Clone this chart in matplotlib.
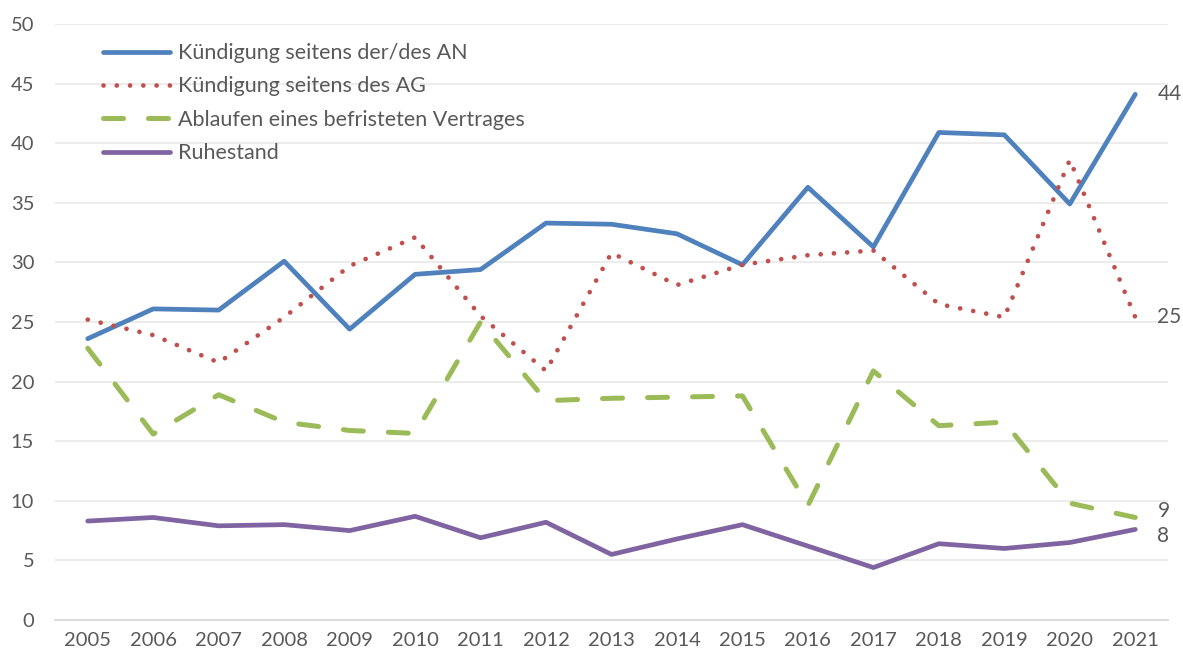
import matplotlib
matplotlib.use("Agg")
import matplotlib.pyplot as plt

# --- data ---
years = list(range(2005, 2022))
an = [23.6, 26.1, 26.0, 30.1, 24.4, 29.0, 29.4, 33.3, 33.2, 32.4, 29.8,
      36.3, 31.3, 40.9, 40.7, 34.9, 44.1]
ag = [25.2, 23.9, 21.6, 25.4, 29.7, 32.1, 25.5, 20.9, 30.8, 28.1, 29.8,
      30.6, 31.0, 26.5, 25.4, 38.6, 25.4]
befristet = [22.8, 15.6, 18.9, 16.6, 15.9, 15.65, 25.0, 18.4, 18.6, 18.7, 18.8,
             9.6, 20.9, 16.3, 16.6, 9.8, 8.6]
ruhestand = [8.3, 8.6, 7.9, 8.0, 7.5, 8.7, 6.9, 8.2, 5.5, 6.8, 8.0,
             6.2, 4.4, 6.4, 6.0, 6.5, 7.6]
labels = ["Kündigung seitens der/des AN", "Kündigung seitens des AG",
          "Ablaufen eines befristeten Vertrages", "Ruhestand"]
end_labels = ["44", "25", "9", "8"]

plt.rcParams['font.family'] = ['Lato', 'DejaVu Sans']
grey = '#595959'

fig = plt.figure(figsize=(11.83, 6.60), dpi=100)
ax = fig.add_axes([55 / 1183, 40 / 660, 1113 / 1183, 596 / 660])

lw = 3.4
ax.plot(years, an, color='#4F81BD', lw=lw, solid_capstyle='round', label=labels[0])
ax.plot(years, ag, color='#C0504D', lw=lw, linestyle=(0, (0.01, 2.8)),
        dash_capstyle='round', label=labels[1])
ax.plot(years, befristet, color='#9BBB59', lw=lw + 0.2, linestyle=(0, (4.0, 5.0)),
        dash_capstyle='round', label=labels[2])
ax.plot(years, ruhestand, color='#8064A2', lw=lw, solid_capstyle='round', label=labels[3])

# value labels at the right end
for series, txt, dy in zip([an, ag, befristet, ruhestand], end_labels, [0, 0, 5, -5]):
    ax.annotate(txt, (years[-1], series[-1]), xytext=(16, dy), textcoords='offset points',
                va='center', ha='left', fontsize=15, color=grey)

ax.set_xlim(2004.5, 2021.5)
ax.set_ylim(0, 50)
ax.set_xticks(years)
ax.set_yticks(range(0, 51, 5))
ax.grid(axis='y', color='#EBEBEB', lw=1.3)
ax.set_axisbelow(True)
for s in ['top', 'right', 'left']:
    ax.spines[s].set_visible(False)
ax.spines['bottom'].set_color('#D9D9D9')
ax.spines['bottom'].set_linewidth(1.3)
ax.tick_params(axis='both', length=0, labelsize=14.5, labelcolor=grey)
ax.tick_params(axis='y', pad=15)
ax.tick_params(axis='x', pad=9)

ax.legend(loc='upper left', bbox_to_anchor=(0.043, 0.968), frameon=False,
          fontsize=15.5, labelcolor=grey, handlelength=3.1, handletextpad=0.4,
          labelspacing=0.62, borderpad=0, borderaxespad=0)

fig.savefig('out.png', dpi=100)
